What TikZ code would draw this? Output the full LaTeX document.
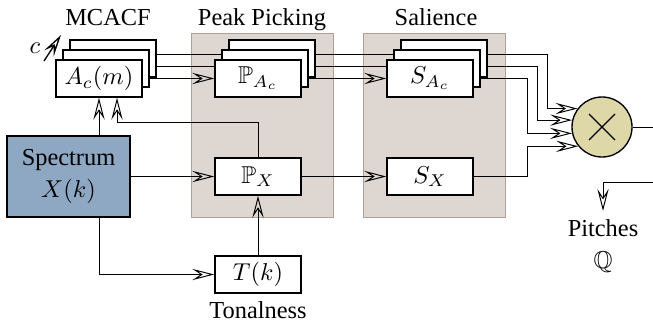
\documentclass[tikz,border=0pt]{standalone}
\usepackage{amssymb}
\usepackage{fontspec}
\setmainfont{Liberation Serif}
\newfontfamily\labelfont{Liberation Serif}
\usetikzlibrary{arrows.meta}
\pgfdeclarelayer{panel}
\pgfdeclarelayer{wire}
\pgfsetlayers{panel,wire,main}
\definecolor{panelfill}{HTML}{DDD6D1}
\definecolor{paneldraw}{HTML}{ADA197}
\definecolor{specfill}{HTML}{8EA8C3}
\definecolor{mulfill}{HTML}{DED8A9}

\begin{document}
\begin{tikzpicture}[x=0.41pt,y=-0.41pt,line width=0.55pt,font=\labelfont,
	arr/.style={-{Stealth[open,length=9pt,width=4.6pt,inset=3.5pt]}},
	blk/.style={draw,fill=white,minimum width=35.3pt,minimum height=15.2pt,inner sep=0pt},
	panel/.style={draw=paneldraw,fill=panelfill}]
	\useasboundingbox (0,0) rectangle (653,327);
	\node[anchor=base] (mcacf) at (108,25) {MCACF};
	\node[anchor=base] (peak) at (262,25) {Peak Picking};
	\node[anchor=base] (sal) at (436,25) {Salience};
	\node[anchor=base] (tonal) at (258,318) {Tonalness};
	\node[blk] (acf3) at (113,58.5) {};
	\node[blk] (acf2) at (106,68.5) {};
	\node[blk] (acf) at (99,78.5) {$A_c(m)$};
	\node[blk] (pac3) at (272,58.5) {};
	\node[blk] (pac2) at (265,68.5) {};
	\node[blk] (pac) at (258,78.5) {$\mathbb{P}_{A_c}$};
	\node[blk] (sac3) at (444,58.5) {};
	\node[blk] (sac2) at (437,68.5) {};
	\node[blk] (sac) at (430,78.5) {$S_{A_c}$};
	\node[blk] (px) at (258,176.5) {$\mathbb{P}_X$};
	\node[blk] (sx) at (430,176.5) {$S_X$};
	\node[blk] (tk) at (258,274.5) {$T(k)$};
	\node[draw,fill=specfill,minimum width=50.4pt,minimum height=33.2pt,align=center] (spec) at (68.5,176.5) {Spectrum\\[1pt]$X(k)$};
	\node[draw,circle,fill=mulfill,minimum size=24.6pt,inner sep=0pt] (mul) at (602,127) {};
	\draw ([shift={(-13,-13)}]mul.center) -- ([shift={(13,13)}]mul.center);
	\draw ([shift={(-13,13)}]mul.center) -- ([shift={(13,-13)}]mul.center);
	\node[anchor=north,align=center] (pitch) at (603,211) {Pitches\\[1pt]$\mathbb{Q}$};
	\node (c) at (35,48) {$c$};
	\coordinate (c0) at (44,61);
	\coordinate (c1) at (61,35);
	\coordinate (out) at (653,127);
	\coordinate (ret) at (653,182);
	\draw[arr] (c0) -- (c1);
	\begin{pgfonlayer}{panel}
		\draw[panel] (191,33) rectangle (333,217);
		\draw[panel] (363,33) rectangle (505,217);
	\end{pgfonlayer}
	\begin{pgfonlayer}{wire}
		\draw[arr] (acf) -- (pac);
		\draw[arr] (pac) -- (sac);
		\draw ([shift={(0,-12)}]acf.center) -- ([shift={(0,-12)}]sac.center);
		\draw ([shift={(0,-24)}]acf.center) -- ([shift={(0,-24)}]sac.center);
		\draw[arr] ([shift={(0,-24)}]sac.center) -- ++(117,0) |- (mul.143);
		\draw[arr] ([shift={(0,-12)}]sac.center) -- ++(107,0) |- (mul.167);
		\draw[arr] (sac) -- ++(97,0) |- (mul.192);
		\draw[arr] (sx) -- ++(97,0) |- (mul.219);
		\draw[arr] (spec) -- (px);
		\draw[arr] (px) -- (sx);
		\draw[arr] (tk) -- (px);
		\draw[arr] (spec.south -| acf.south) |- (tk.west);
		\draw[arr] (spec.north -| acf.south) -- (acf.south);
		\draw[arr] (px.north) -- ++(0,-35) -| ([shift={(18,0)}]acf.south);
		\draw (mul) -- (out);
		\draw[arr] (ret) -| (pitch.north);
	\end{pgfonlayer}
\end{tikzpicture}
\end{document}
